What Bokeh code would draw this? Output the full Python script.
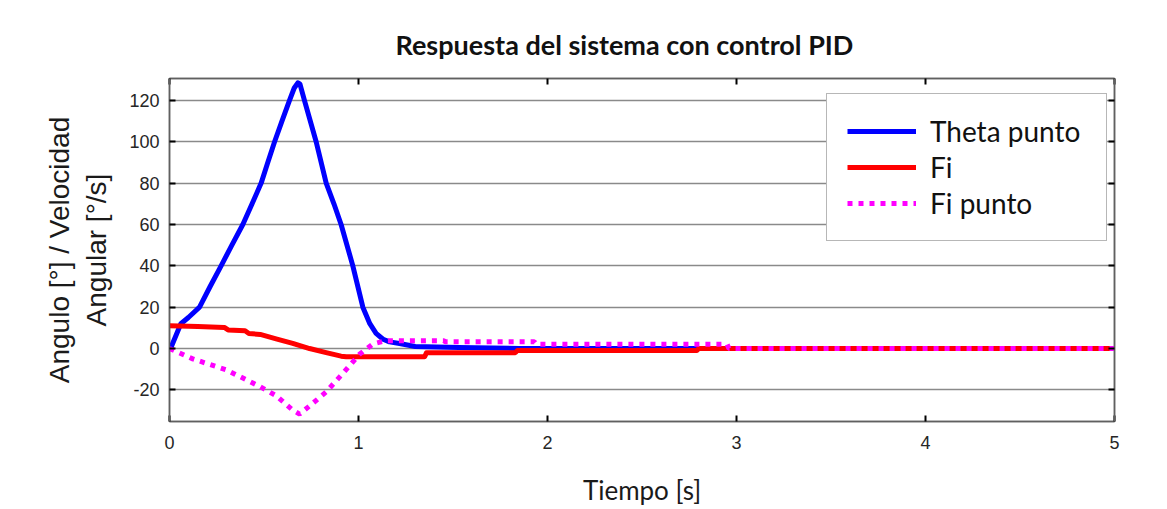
from bokeh.plotting import figure
from bokeh.models import Range1d, LinearAxis, Legend, LegendItem, FixedTicker
from bokeh.embed import file_html
from bokeh.resources import INLINE

title_text = "Respuesta del sistema con  control PID"
x_label = "Tiempo [s]"
y_label = "Angulo [°] / Velocidad\nAngular [°/s]"
x_ticks = [0, 1, 2, 3, 4, 5]
y_ticks = [-20, 0, 20, 40, 60, 80, 100, 120]
series_names = ["Theta punto", "Fi", "Fi punto"]

theta_t = [0, 0.01, 0.06, 0.10, 0.159, 0.215, 0.273, 0.33, 0.388, 0.437, 0.485, 0.52,
           0.556, 0.595, 0.635, 0.66, 0.679, 0.69, 0.714, 0.776, 0.829, 0.87, 0.908,
           0.97, 1.023, 1.06, 1.093, 1.13, 1.164, 1.217, 1.30, 1.53, 1.85, 5.0]
theta_v = [0, 1, 12, 15, 20, 30, 40, 50, 60, 70, 80, 90,
           100, 110, 120, 126, 128.5, 128, 120, 100, 80, 70, 60,
           40, 20, 12, 7.3, 4.5, 3.2, 2.4, 1, 0.5, 0, 0]

fi_t = [0, 0.15, 0.29, 0.31, 0.40, 0.42, 0.48, 0.564, 0.652, 0.741, 0.829, 0.908,
        0.935, 1.35, 1.36, 1.83, 1.84, 2.79, 2.80, 5.0]
fi_v = [11, 10.6, 10.2, 9.0, 8.6, 7.3, 6.8, 4.7, 2.5, 0, -2, -3.7,
        -4, -4, -2, -2, -1, -1, 0, 0]

fip_t = [0, 0.123, 0.30, 0.476, 0.564, 0.652, 0.688, 0.741, 0.829, 0.917, 1.005,
         1.076, 1.146, 1.45, 1.46, 1.93, 1.94, 2.95, 2.96, 5.0]
fip_v = [0, -5, -10.3, -18.3, -22.8, -29.8, -31.7, -27.8, -21, -12, -2.8,
         2.2, 3.8, 3.8, 3.3, 3.3, 2.1, 2.1, 0, 0]

W, H = 1159, 508
p = figure(width=W, height=H, output_backend="svg", toolbar_location=None,
           x_range=Range1d(0, 5), y_range=Range1d(-35.3, 130.6),
           min_border_left=169, min_border_right=45, min_border_top=78,
           min_border_bottom=87)
p.background_fill_color = "white"
p.border_fill_color = "white"
p.outline_line_color = "#606060"
p.outline_line_width = 1.5

p.title.text = title_text
p.title.align = "left"
p.title.offset = 226
p.title.vertical_align = "top"
p.title.text_font = "Lato"
p.title.text_font_style = "bold"
p.title.text_font_size = "27px"
p.title.text_color = "#111111"
p.title.standoff = 31

tick_font = "Liberation Sans"
for ax in (p.xaxis[0], p.yaxis[0]):
    ax.major_tick_in = 6
    ax.major_tick_out = 0
    ax.minor_tick_line_color = None
    ax.major_tick_line_color = "black"
    ax.major_tick_line_width = 2
    ax.axis_line_color = "#606060"
    ax.axis_line_width = 1.5
    ax.major_label_text_font = tick_font
    ax.major_label_text_font_size = "18px"
    ax.major_label_text_color = "#262626"

p.xaxis[0].ticker = FixedTicker(ticks=x_ticks)
p.yaxis[0].ticker = FixedTicker(ticks=y_ticks)
p.yaxis[0].major_label_overrides = {t: str(t) for t in y_ticks}
p.xaxis[0].major_label_standoff = 14
p.yaxis[0].major_label_standoff = 10
p.yaxis[0].axis_label = y_label
p.yaxis[0].axis_label_text_font = "Liberation Sans"
p.yaxis[0].axis_label_text_font_size = "28px"
p.yaxis[0].axis_label_text_font_style = "normal"
p.yaxis[0].axis_label_text_color = "#1a1a1a"
p.yaxis[0].axis_label_standoff = 14
p.xaxis[0].axis_label = x_label
p.xaxis[0].axis_label_text_font = "Lato"
p.xaxis[0].axis_label_text_font_size = "26px"
p.xaxis[0].axis_label_text_font_style = "normal"
p.xaxis[0].axis_label_text_color = "#1a1a1a"
p.xaxis[0].axis_label_standoff = 22

top_ax = LinearAxis(ticker=FixedTicker(ticks=x_ticks))
right_ax = LinearAxis(ticker=FixedTicker(ticks=y_ticks))
for ax in (top_ax, right_ax):
    ax.major_tick_in = 6
    ax.major_tick_out = 0
    ax.minor_tick_line_color = None
    ax.major_tick_line_color = "black"
    ax.major_tick_line_width = 2
    ax.axis_line_color = "#606060"
    ax.axis_line_width = 1.5
    ax.major_label_text_color = None
    ax.major_label_text_font_size = "0px"
    ax.major_label_standoff = 0
p.add_layout(top_ax, "above")
p.add_layout(right_ax, "right")

p.xgrid.visible = False
p.ygrid.ticker = FixedTicker(ticks=y_ticks)
p.ygrid.grid_line_color = "#8a8a8a"
p.ygrid.grid_line_width = 1.5

r1 = p.line(theta_t, theta_v, line_color="#0000ff", line_width=5, line_join="round")
r2 = p.line(fi_t, fi_v, line_color="#ff0000", line_width=5, line_join="round")
r3 = p.line(fip_t, fip_v, line_color="#ff00ff", line_width=5, line_dash="5 6",
            line_cap="butt")

legend = Legend(items=[LegendItem(label=series_names[0], renderers=[r1]),
                       LegendItem(label=series_names[1], renderers=[r2]),
                       LegendItem(label=series_names[2], renderers=[r3])],
                location=(657, 180))
legend.margin = 0
legend.padding = 20
legend.spacing = 2
legend.glyph_width = 69
legend.glyph_height = 30
legend.label_height = 30
legend.label_width = 156
legend.label_standoff = 14
legend.label_text_font = "Lato"
legend.label_text_font_size = "28px"
legend.label_text_color = "#111111"
legend.border_line_color = "#707070"
legend.border_line_width = 1.5
legend.background_fill_color = "white"
legend.background_fill_alpha = 1.0
p.add_layout(legend)

open("out.html", "w").write(file_html(p, INLINE))
